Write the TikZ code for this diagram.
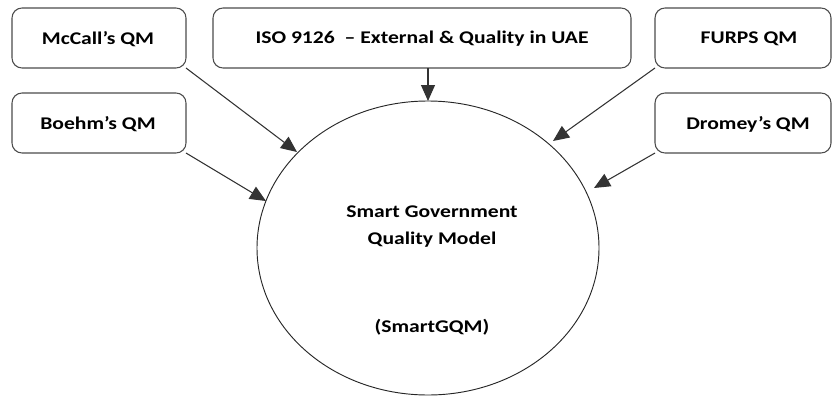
\documentclass[tikz,border=0pt]{standalone}
\usepackage{fontspec}
\setmainfont{Carlito}
\usetikzlibrary{arrows.meta,shapes.geometric}
\newcommand{\wide}[1]{\scalebox{1.21}[1]{#1}}
\begin{document}
\begin{tikzpicture}[x=0.75pt,y=-0.75pt,
  qbox/.style={draw=black!70,line width=0.8pt,rounded corners=7.5pt,inner sep=0pt},
  qtext/.style={font=\fontsize{13.4}{16}\selectfont\bfseries,inner sep=0pt},
  conn/.style={draw=black!80,line width=0.8pt,-{Triangle[length=12pt,width=10.5pt]}}]
\useasboundingbox (0,0) rectangle (832,396);
\node[qbox,minimum width=174*0.75pt,minimum height=60*0.75pt] (mccall) at (99,38) {};
\node[qbox,minimum width=174*0.75pt,minimum height=60*0.75pt] (boehm) at (99,123) {};
\node[qbox,minimum width=418*0.75pt,minimum height=60*0.75pt] (iso) at (422,38) {};
\node[qbox,minimum width=176*0.75pt,minimum height=60*0.75pt] (furps) at (743,38) {};
\node[qbox,minimum width=176*0.75pt,minimum height=60*0.75pt] (dromey) at (743,123) {};
\node[qtext] at (98,39) {\wide{McCall’s QM}};
\node[qtext] at (98,124) {\wide{Boehm’s QM}};
\node[qtext] at (422,39) {\wide{ISO 9126 \ – External \& Quality in UAE}};
\node[qtext] at (749,39) {\wide{FURPS QM}};
\node[qtext] at (748,124) {\wide{Dromey’s QM}};
\node[draw=black!85,line width=0.7pt,ellipse,minimum width=342*0.75pt,minimum height=294*0.75pt,inner sep=0pt] (gqm) at (428,248) {};
\node[qtext] (t1) at (432,212) {\wide{Smart Government}};
\node[qtext] (t2) at (432,240) {\wide{Quality Model}};
\node[qtext] (t3) at (432,327) {\wide{(SmartGQM)}};
\coordinate (a1) at (186,68);
\coordinate (a2) at (186,153);
\coordinate (a3) at (428,68);
\coordinate (a4) at (655,68);
\coordinate (a5) at (655,153);
\coordinate (e1) at (297,152);
\coordinate (e2) at (266,201);
\coordinate (e3) at (428,101);
\coordinate (e4) at (553,141);
\coordinate (e5) at (594,188);
\draw[conn] (a1) -- (e1);
\draw[conn] (a2) -- (e2);
\draw[conn] (a3) -- (e3);
\draw[conn] (a4) -- (e4);
\draw[conn] (a5) -- (e5);
\end{tikzpicture}
\end{document}
